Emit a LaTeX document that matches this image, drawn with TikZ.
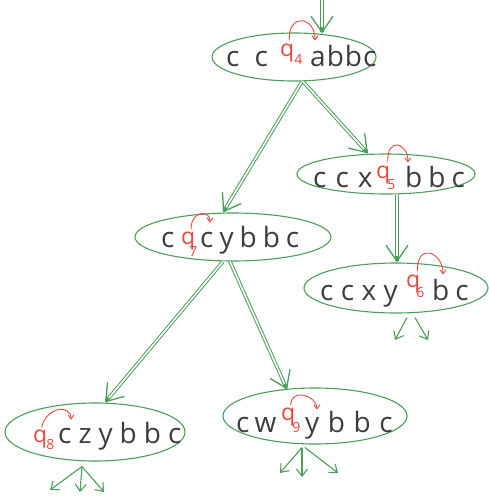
\documentclass[tikz,border=0pt]{standalone}
\usepackage{fontspec}
\setmainfont{Open Sans}
\usetikzlibrary{shapes.geometric,arrows.meta}
\definecolor{pen}{HTML}{3E3E3E}
\definecolor{gpen}{HTML}{4C9F5B}
\definecolor{rpen}{HTML}{E8483E}
\newcommand\hw{\fontsize{28}{28}\selectfont}
\newcommand\redqfont{\fontsize{23}{23}\selectfont}
\newcommand\sg{\kern7pt}
% #1 kern before digit, #2 lowering, #3 digit
\newcommand\qq[3]{q\kern#1\raisebox{-#2}{\fontsize{14}{14}\selectfont #3}}
\begin{document}
\begin{tikzpicture}[x=1pt,y=-1pt,
  txt/.style={anchor=base west,inner sep=0pt,text=pen,font=\hw},
  qnode/.style={anchor=base west,inner sep=0pt,text=rpen,font=\redqfont},
  oval/.style={ellipse,draw=gpen,line width=1.1pt,inner sep=0pt},
  gthick/.style={draw=gpen,line width=3.6pt,-{Straight Barb[length=16pt,width=22pt,line width=1.3pt]}},
  ginner/.style={draw=white,line width=1.6pt,shorten >=6pt},
  sgl/.style={draw=gpen,line width=1.1pt,-{Straight Barb[length=7pt,width=11pt]}},
  rarc/.style={draw=rpen,line width=0.9pt,-{Straight Barb[length=4pt,width=6pt]}}]
\useasboundingbox (0,0) rectangle (489,500);
\fill[white] (0,0) rectangle (489,500);

% ovals
\node[oval,minimum width=164pt,minimum height=48pt] (e1) at (294,57) {};
\node[oval,minimum width=178pt,minimum height=40pt] (e2) at (386,174) {};
\node[oval,minimum width=196pt,minimum height=48pt] (e3) at (233,237) {};
\node[oval,minimum width=184pt,minimum height=50pt] (e4) at (396,288) {};
\node[oval,minimum width=180pt,minimum height=58pt] (e5) at (95,432) {};
\node[oval,minimum width=184pt,minimum height=56pt] (e6) at (315,416) {};

% texts
\node[txt] (l1) at (226,67) {c\kern15pt c};
\node[qnode] (q4) at (280,57) {\qq{0pt}{8pt}{4}};
\node[txt] (r1) at (310,67) {a\kern1pt b\kern1pt b\kern1pt c};

\node[txt] (l2) at (313,187) {c\kern9pt c\kern9pt x};
\node[qnode] (q5) at (376,178) {\qq{-3pt}{11pt}{5}};
\node[txt] (r2) at (405,187) {b\kern6pt b\kern6pt c};

\node[txt] (l3) at (161,247) {c};
\node[qnode] (q7) at (181,244) {\qq{-6pt}{12pt}{7}};
\node[txt] (r3) at (200,247) {c\kern6pt y\kern6pt b\kern6pt b\kern6pt c};

\node[txt] (l4) at (320,300) {c\kern7.4pt c\kern7.4pt x\kern7.4pt y};
\node[qnode] (q6) at (406,287) {\qq{-4pt}{10pt}{6}};
\node[txt] (r4) at (432,300) {b\kern6pt c};

\node[qnode] (q8) at (33,442) {\qq{-1pt}{7pt}{8}};
\node[txt] (r5) at (58,443) {c\sg z\sg y\sg b\sg b\sg c};

\node[txt] (l6) at (236,432) {c\kern5pt w};
\node[qnode] (q9) at (281,420) {\qq{-3pt}{12pt}{9}};
\node[txt] (r6) at (305,432) {y\kern8.6pt b\kern8.6pt b\kern8.6pt c};

% red arcs
\draw[rarc] ([xshift=-2pt,yshift=4pt]q4.north) .. controls +(-1,-28) and +(0,-24) .. ([xshift=5pt,yshift=5pt]r1.north west);
\draw[rarc] ([xshift=2pt,yshift=3pt]q5.north) .. controls +(-1,-26) and +(0,-20) .. ([xshift=3pt,yshift=3pt]r2.north west);
\draw[rarc] ([xshift=2pt,yshift=2pt]q7.north) .. controls +(-1,-18) and +(0,-14) .. ([xshift=10pt,yshift=3pt]r3.north west);
\draw[rarc] ([xshift=2pt,yshift=3pt]q6.north) .. controls +(0,-30) and +(0,-22) .. ([xshift=11pt,yshift=4pt]r4.north west);
\draw[rarc] ([xshift=-2pt,yshift=2pt]q8.north) .. controls +(4,-20) and +(0,-16) .. ([xshift=13pt,yshift=2pt]r5.north west);
\draw[rarc] ([xshift=0pt,yshift=2pt]q9.north) .. controls +(0,-18) and +(0,-14) .. ([xshift=12pt,yshift=1pt]r6.north west);

% green connectors (double lines with open tips)
\coordinate (entry) at (322,0);
\coordinate (t01) at ([xshift=28pt,yshift=-1pt]e1.north);
\coordinate (s13) at ([xshift=8pt]e1.south);
\coordinate (t13) at ([xshift=-10pt]e3.north);
\coordinate (s12) at ([xshift=9pt]e1.south);
\coordinate (t12) at ([xshift=-18pt]e2.north);
\coordinate (s24) at ([xshift=11pt]e2.south);
\coordinate (t24) at ([xshift=1pt]e4.north);
\coordinate (s35) at ([xshift=-10pt]e3.south);
\coordinate (t35) at ([xshift=10pt]e5.north);
\coordinate (s36) at ([xshift=-3pt]e3.south);
\coordinate (t36) at ([xshift=-28pt,yshift=-2pt]e6.north);
\foreach \src/\dst in {entry/t01,s13/t13,s12/t12,s24/t24,s35/t35,s36/t36}{
  \draw[gthick] (\src) -- (\dst);
  \draw[ginner] (\src) -- (\dst);
}

% small outgoing arrows
\coordinate (a41) at (395,340);
\coordinate (a42) at (428,340);
\draw[sgl] ([xshift=11pt,yshift=-4pt]e4.south) -- (a41);
\draw[sgl] ([xshift=19pt,yshift=-4pt]e4.south) -- (a42);
\coordinate (a51) at (50,490);
\coordinate (a52) at (80,492);
\coordinate (a53) at (104,492);
\draw[sgl] ([xshift=-13pt,yshift=-5pt]e5.south) -- (a51);
\draw[sgl] ([xshift=-13pt,yshift=-5pt]e5.south) -- (a52);
\draw[sgl] ([xshift=-13pt,yshift=-5pt]e5.south) -- (a53);
\coordinate (a61) at (280,473);
\coordinate (a62) at (302,477);
\coordinate (a63) at (338,473);
\draw[sgl] ([xshift=-13pt,yshift=-3pt]e6.south) -- (a61);
\draw[sgl] ([xshift=-13pt,yshift=-3pt]e6.south) -- (a62);
\draw[sgl] ([xshift=-10pt,yshift=-3pt]e6.south) -- (a63);
\end{tikzpicture}
\end{document}
